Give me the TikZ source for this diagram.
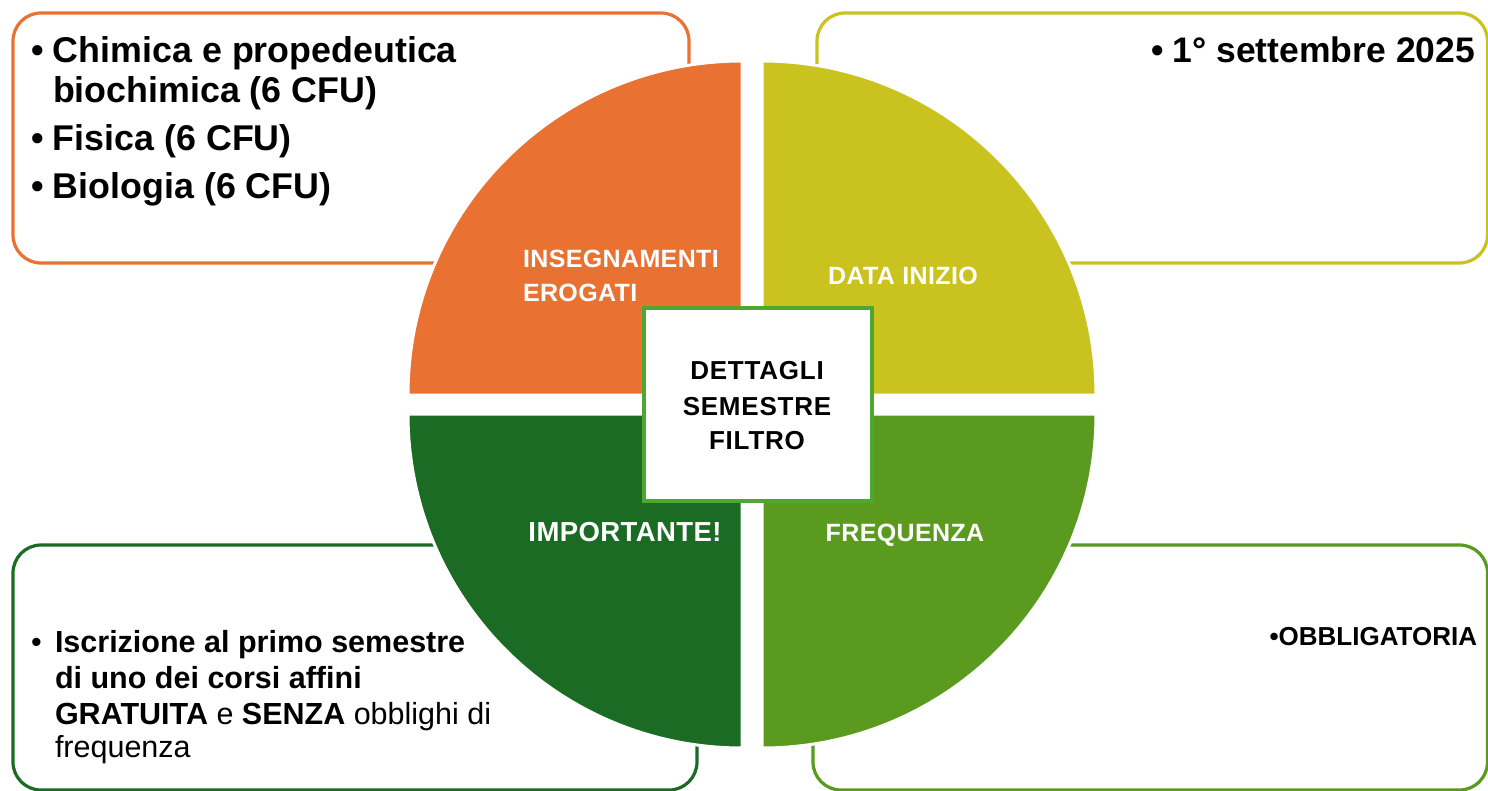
\documentclass[tikz,border=0pt]{standalone}
\usepackage{fontspec}
\setmainfont{Liberation Sans}
\newfontfamily\labfont[LetterSpace=1.5]{Liberation Sans}
\newfontfamily\ctrfont[LetterSpace=3]{Liberation Sans}
\definecolor{cOrange}{HTML}{E97132}
\definecolor{cYellow}{HTML}{CAC21F}
\definecolor{cDGreen}{HTML}{1B6B24}
\definecolor{cLGreen}{HTML}{5A9A1F}
\definecolor{cCtr}{HTML}{4EA72E}
\tikzset{
  infobox/.style={line width=3.2pt, rounded corners=28pt, fill=white},
  quad/.style={draw=white, line width=3pt},
  txt/.style={inner sep=0pt, outer sep=0pt, anchor=base west, text=black},
  qlab/.style={inner sep=0pt, outer sep=0pt, anchor=base, text=white, font=\labfont\bfseries\fontsize{25}{34}\selectfont},
  ctr/.style={inner sep=0pt, outer sep=0pt, anchor=base, text=black, font=\ctrfont\bfseries\fontsize{26}{35}\selectfont}
}
\begin{document}
\begin{tikzpicture}[x=1pt,y=-1pt]
\useasboundingbox (0,0) rectangle (1488,790);
\fill[white] (0,0) rectangle (1488,790);
% outer info boxes
\draw[infobox, draw=cOrange] (13,13) rectangle (689,263);
\draw[infobox, draw=cYellow] (817,13) rectangle (1487.5,263);
\draw[infobox, draw=cDGreen] (13,545) rectangle (697,790);
\draw[infobox, draw=cLGreen] (813,545) rectangle (1487.5,790);
% quadrants
\filldraw[quad, fill=cOrange] (742,395) -- (408,395) arc[start angle=180, end angle=270, radius=334] -- cycle;
\filldraw[quad, fill=cYellow] (762,395) -- (762,61) arc[start angle=270, end angle=360, radius=334] -- cycle;
\filldraw[quad, fill=cDGreen] (742,414) -- (742,748) arc[start angle=90, end angle=180, radius=334] -- cycle;
\filldraw[quad, fill=cLGreen] (762,414) -- (1096,414) arc[start angle=0, end angle=90, radius=334] -- cycle;
% quadrant labels
\node[qlab, anchor=base west] (q1a) at (523,267) {INSEGNAMENTI};
\node[qlab, anchor=base west] (q1b) at (523,301) {EROGATI};
\node[qlab] (q2) at (903,284) {DATA INIZIO};
\node[qlab, font=\labfont\bfseries\fontsize{27.5}{34}\selectfont] (q3) at (625,541) {IMPORTANTE!};
\node[qlab] (q4) at (905,541) {FREQUENZA};
% center box
\node[draw=cCtr, fill=white, line width=4pt, minimum width=228pt, minimum height=193pt, inner sep=0pt] (ctrbox) at (757.5,404.5) {};
\node[ctr] (c1) at (757,379) {DETTAGLI};
\node[ctr] (c2) at (757,415) {SEMESTRE};
\node[ctr] (c3) at (757,449) {FILTRO};
% top-left text
\begin{scope}[every node/.style={font=\bfseries\fontsize{35.8}{40}\selectfont}]
\node[txt] (tl1) at (31,62) {\makebox[22pt][l]{•}Chimica e propedeutica};
\node[txt] (tl2) at (53,102) {biochimica (6 CFU)};
\node[txt] (tl3) at (31,150) {\makebox[22pt][l]{•}Fisica (6 CFU)};
\node[txt] (tl4) at (31,198) {\makebox[22pt][l]{•}Biologia (6 CFU)};
\end{scope}
% top-right text
\node[txt, anchor=base east, font=\bfseries\fontsize{35.5}{40}\selectfont] (tr1) at (1475,62) {•\hspace{9pt}1° settembre 2025};
% bottom-right text
\node[txt, anchor=base east, font=\bfseries\fontsize{26}{30}\selectfont] (br1) at (1477,645) {•OBBLIGATORIA};
% bottom-left text
\begin{scope}[every node/.style={font=\fontsize{30.5}{35}\selectfont}]
\node[txt] (bl1) at (31,652) {\makebox[24pt][l]{•}\textbf{Iscrizione al primo semestre}};
\node[txt] (bl2) at (55,688) {\textbf{di uno dei corsi affini}};
\node[txt] (bl3) at (55,724) {\textbf{GRATUITA} e \textbf{SENZA} obblighi di};
\node[txt] (bl4) at (55,757) {frequenza};
\end{scope}
\end{tikzpicture}
\end{document}
